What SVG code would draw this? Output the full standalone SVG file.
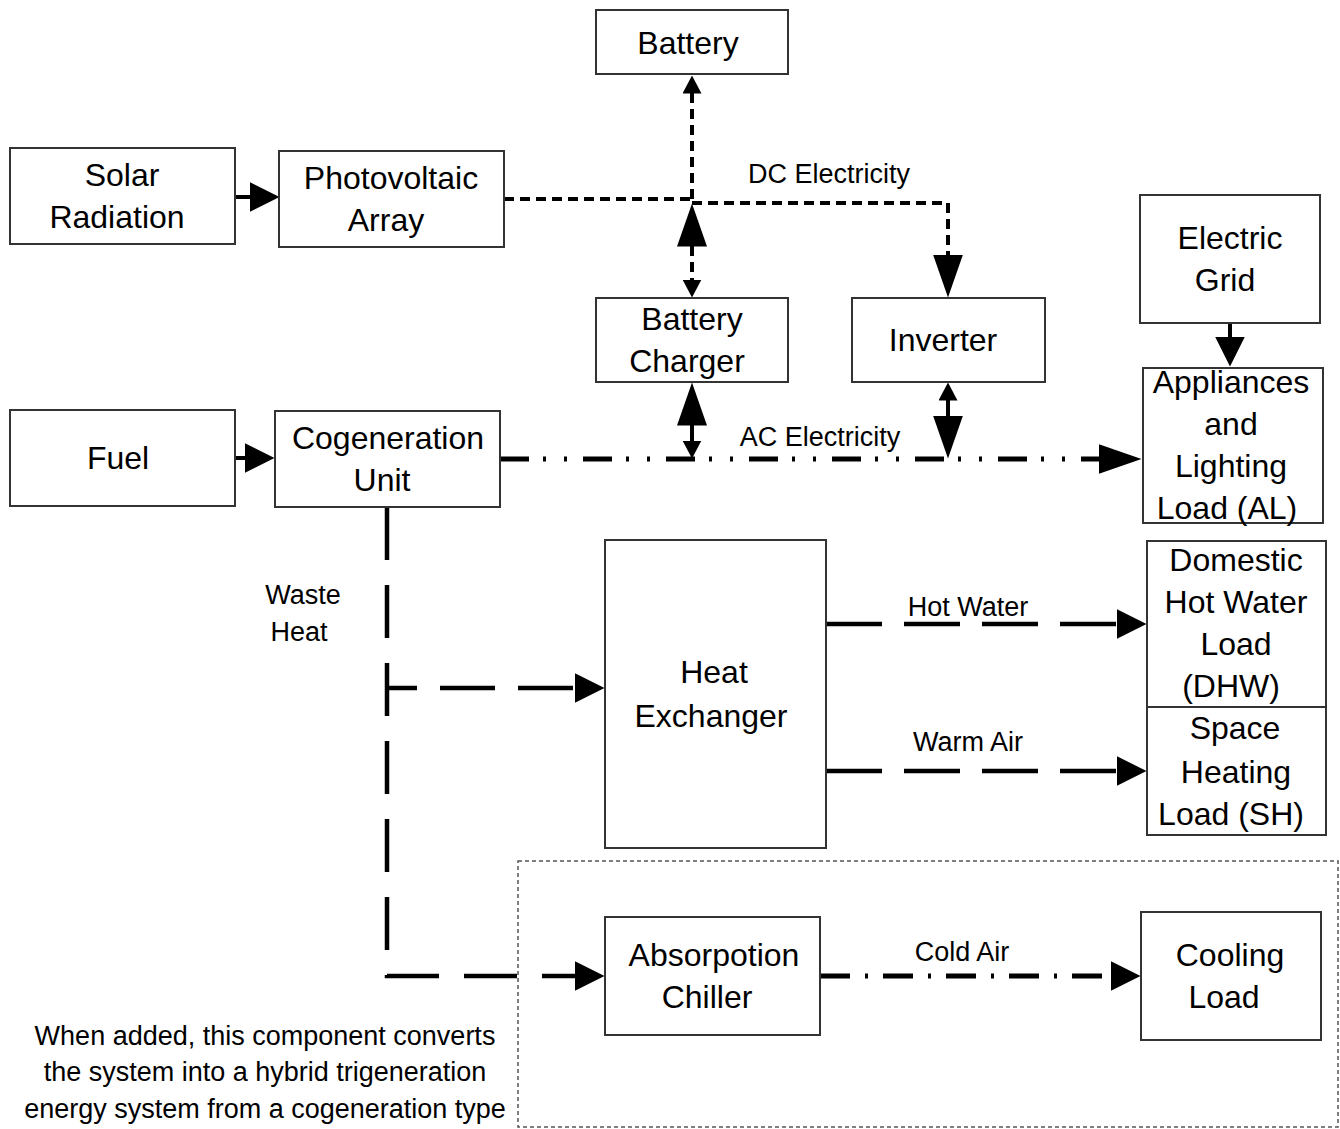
<svg xmlns="http://www.w3.org/2000/svg" width="1340" height="1129" viewBox="0 0 1340 1129">
<defs>
<style>
.box{fill:#fff;stroke:#333;stroke-width:2}
.nt{font-family:"Liberation Sans",Arial,sans-serif;font-size:32px;fill:#000;text-anchor:middle}
.lb{font-family:"Liberation Sans",Arial,sans-serif;font-size:27px;fill:#000;text-anchor:middle}
.c{fill:none;stroke:#000}
.solid{stroke-width:4}
.dc{stroke-width:4;stroke-dasharray:10 6}
.ac{stroke-width:5;stroke-dasharray:29 14 3 18 3 16}
.heat{stroke-width:4.5;stroke-dasharray:55 23}
.cold{stroke-width:5;stroke-dasharray:30 15 3 15}
.zone{fill:none;stroke:#555;stroke-width:1.5;stroke-dasharray:4 3}
</style>
<marker id="arr" viewBox="0 0 30 30" markerWidth="30" markerHeight="30" refX="0.5" refY="15" orient="auto-start-reverse" markerUnits="userSpaceOnUse"><path d="M0,0 L30,15 L0,30 Z" fill="#000"/></marker>
<marker id="arrXL" viewBox="0 0 43 30" markerWidth="43" markerHeight="30" refX="0.5" refY="15" orient="auto-start-reverse" markerUnits="userSpaceOnUse"><path d="M0,0 L43,15 L0,30 Z" fill="#000"/></marker>
<marker id="arrS" viewBox="0 0 18 19" markerWidth="18" markerHeight="19" refX="0.5" refY="9.5" orient="auto-start-reverse" markerUnits="userSpaceOnUse"><path d="M0,0 L18,9.5 L0,19 Z" fill="#000"/></marker>
</defs>
<rect width="1340" height="1129" fill="#fff"/>

<g id="trigeneration-zone">
<rect class="zone" x="518" y="861" width="820" height="266"/>
<text class="lb" x="265" y="1045">When added, this component converts</text>
<text class="lb" x="265" y="1081">the system into a hybrid trigeneration</text>
<text class="lb" x="265" y="1118">energy system from a cogeneration type</text>
</g>

<g id="connectors">
<path class="c solid" d="M235,197 H250" marker-end="url(#arr)"/>
<path class="c solid" d="M235,458 H245" marker-end="url(#arr)"/>
<path class="c dc" d="M504,199 H692"/>
<path class="c dc" d="M692,203 H948 V255" marker-end="url(#arrXL)"/>
<path class="c dc" d="M692,199 V93" marker-end="url(#arrS)"/>
<path class="c dc" d="M692,246 V280" marker-start="url(#arrXL)" marker-end="url(#arrS)"/>
<path class="c solid" d="M692,425 V441" marker-start="url(#arrXL)" marker-end="url(#arrS)"/>
<path class="c solid" d="M948,400 V416" marker-start="url(#arrS)" marker-end="url(#arrXL)"/>
<path class="c ac" d="M500,459 H1099" marker-end="url(#arrXL)"/>
<path class="c solid" d="M1230,323 V337" marker-end="url(#arr)"/>
<path class="c heat" style="stroke-dasharray:53 25" d="M387,507 V976 H575" marker-end="url(#arr)"/>
<path class="c heat" style="stroke-dashoffset:25" d="M387,688 H575" marker-end="url(#arr)"/>
<path class="c heat" style="stroke-dasharray:56 22" d="M826,624 H1117" marker-end="url(#arr)"/>
<path class="c heat" style="stroke-dasharray:56 22" d="M826,771 H1117" marker-end="url(#arr)"/>
<path class="c cold" d="M820,976 H1111" marker-end="url(#arr)"/>
<text class="lb" x="829" y="183">DC Electricity</text>
<text class="lb" x="820" y="446">AC Electricity</text>
<text class="lb" x="303" y="604">Waste</text>
<text class="lb" x="299" y="641">Heat</text>
<text class="lb" x="968" y="616">Hot Water</text>
<text class="lb" x="968" y="751">Warm Air</text>
<text class="lb" x="962" y="961">Cold Air</text>
</g>

<g id="battery">
<rect class="box" x="596" y="10" width="192" height="64"/>
<text class="nt" x="688" y="54">Battery</text>
</g>
<g id="solar-radiation">
<rect class="box" x="10" y="148" width="225" height="96"/>
<text class="nt" x="122" y="186">Solar</text>
<text class="nt" x="117" y="228">Radiation</text>
</g>
<g id="photovoltaic-array">
<rect class="box" x="279" y="151" width="225" height="96"/>
<text class="nt" x="391" y="189">Photovoltaic</text>
<text class="nt" x="386" y="231">Array</text>
</g>
<g id="battery-charger">
<rect class="box" x="596" y="298" width="192" height="84"/>
<text class="nt" x="692" y="330">Battery</text>
<text class="nt" x="687" y="372">Charger</text>
</g>
<g id="inverter">
<rect class="box" x="852" y="298" width="193" height="84"/>
<text class="nt" x="943" y="351">Inverter</text>
</g>
<g id="electric-grid">
<rect class="box" x="1140" y="195" width="180" height="128"/>
<text class="nt" x="1230" y="249">Electric</text>
<text class="nt" x="1225" y="291">Grid</text>
</g>
<g id="appliances-lighting-load">
<rect class="box" x="1143" y="368" width="180" height="155"/>
<text class="nt" x="1231" y="393">Appliances</text>
<text class="nt" x="1231" y="435">and</text>
<text class="nt" x="1231" y="477">Lighting</text>
<text class="nt" x="1227" y="519">Load (AL)</text>
</g>
<g id="fuel">
<rect class="box" x="10" y="410" width="225" height="96"/>
<text class="nt" x="118" y="469">Fuel</text>
</g>
<g id="cogeneration-unit">
<rect class="box" x="275" y="411" width="225" height="96"/>
<text class="nt" x="388" y="449">Cogeneration</text>
<text class="nt" x="382" y="491">Unit</text>
</g>
<g id="heat-exchanger">
<rect class="box" x="605" y="540" width="221" height="308"/>
<text class="nt" x="714" y="683">Heat</text>
<text class="nt" x="711" y="727">Exchanger</text>
</g>
<g id="domestic-hot-water-load">
<rect class="box" x="1147" y="541" width="179" height="166"/>
<text class="nt" x="1236" y="571">Domestic</text>
<text class="nt" x="1236" y="613">Hot Water</text>
<text class="nt" x="1236" y="655">Load</text>
<text class="nt" x="1231" y="697">(DHW)</text>
</g>
<g id="space-heating-load">
<rect class="box" x="1147" y="707" width="179" height="128"/>
<text class="nt" x="1235" y="739">Space</text>
<text class="nt" x="1236" y="783">Heating</text>
<text class="nt" x="1231" y="825">Load (SH)</text>
</g>
<g id="absorption-chiller">
<rect class="box" x="605" y="917" width="215" height="118"/>
<text class="nt" x="714" y="966">Absorpotion</text>
<text class="nt" x="707" y="1008">Chiller</text>
</g>
<g id="cooling-load">
<rect class="box" x="1141" y="912" width="180" height="128"/>
<text class="nt" x="1230" y="966">Cooling</text>
<text class="nt" x="1224" y="1008">Load</text>
</g>
</svg>
